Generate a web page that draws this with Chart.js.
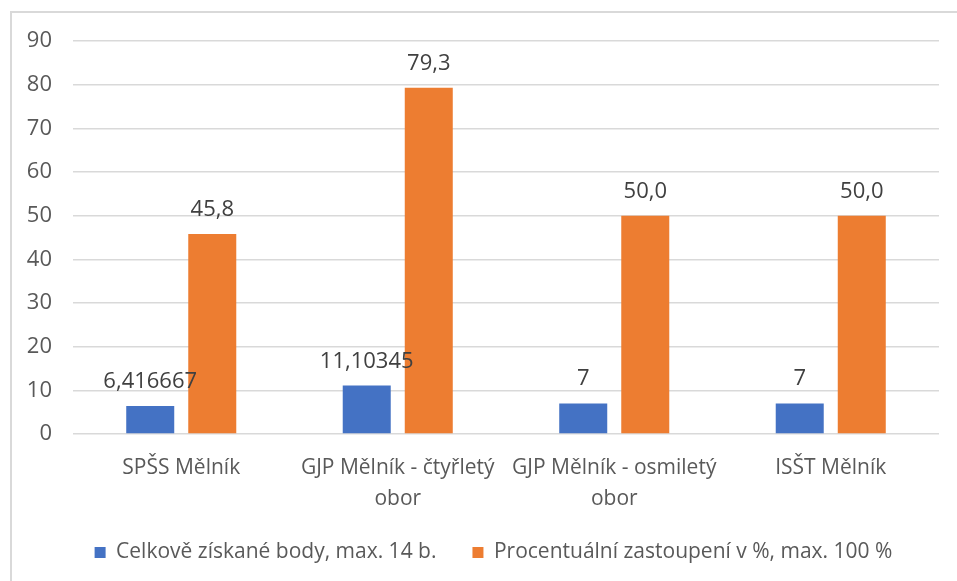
<!DOCTYPE html>
<html>
<head>
<meta charset="utf-8">
<script src="https://cdn.jsdelivr.net/npm/chart.js@4"></script>
<style>
  html, body { margin: 0; padding: 0; background: #fff; overflow: hidden; }
  #wrap { position: absolute; left: 10px; top: 11px; width: 963px; height: 600px; border: 2px solid #d9d9d9; }
</style>
</head>
<body>
<div id="wrap"><canvas id="graf" width="963" height="600"></canvas></div>
<script>
const skoly = [
  "SPŠS Mělník",
  ["GJP Mělník - čtyřletý", "obor"],
  ["GJP Mělník - osmiletý", "obor"],
  "ISŠT Mělník",
];
const bodyNazev = "Celkově získané body, max. 14 b.";
const procentaNazev = "Procentuální zastoupení v %, max. 100 %";
const body = [6.416667, 11.10345, 7, 7];
const procenta = [45.8, 79.3, 50.0, 50.0];
const osaY = { min: 0, max: 90, krok: 10 };

const pismo = "'Open Sans', sans-serif";
const seda = "#595959";

// popisky hodnot nad sloupci
const popiskyPlugin = {
  id: "popisky",
  afterDatasetsDraw(chart) {
    const ctx = chart.ctx;
    ctx.save();
    ctx.font = "22px " + pismo;
    ctx.fillStyle = "#404040";
    ctx.textAlign = "center";
    ctx.textBaseline = "alphabetic";
    chart.data.datasets.forEach((ds, i) => {
      chart.getDatasetMeta(i).data.forEach((bar, j) => {
        ctx.fillText(ds.format(ds.data[j]), bar.x, bar.y - 18);
      });
    });
    ctx.restore();
  },
};

// legenda je vystredena na celou sirku ramecku, ne jen bez praveho okraje
const posunLegendyPlugin = {
  id: "posunLegendy",
  afterLayout(chart) {
    chart.legend.left += 18;
    chart.legend.right += 18;
  },
};

new Chart(document.getElementById("graf"), {
  type: "bar",
  data: {
    labels: skoly,
    datasets: [
      {
        label: bodyNazev,
        data: body,
        backgroundColor: "#4472C4",
        format: (v) => String(v).replace(".", ","),
      },
      {
        label: procentaNazev,
        data: procenta,
        backgroundColor: "#ED7D31",
        format: (v) => v.toFixed(1).replace(".", ","),
      },
    ],
  },
  options: {
    responsive: false,
    animation: false,
    categoryPercentage: 0.573,
    barPercentage: 0.774,
    layout: { padding: { top: 28, right: 36, left: 0, bottom: 40 } },
    scales: {
      x: {
        grid: { display: false },
        border: { display: false },
        ticks: { color: seda, font: { family: pismo, size: 21, lineHeight: 1.45 }, padding: 11, maxRotation: 0, autoSkip: false },
        afterFit(scale) { scale.height = 72; },
      },
      y: {
        min: osaY.min,
        max: osaY.max,
        border: { display: false },
        grid: { color: "#d9d9d9", lineWidth: 1.5, drawTicks: false },
        ticks: { stepSize: osaY.krok, color: seda, font: { family: pismo, size: 22 }, padding: 21 },
        afterFit(scale) {
          scale.width = 61;
          scale.paddingTop = 0;
          scale.paddingBottom = 0;
        },
      },
    },
    plugins: {
      tooltip: { enabled: false },
      legend: {
        position: "bottom",
        labels: { color: seda, font: { family: pismo, size: 21 }, boxWidth: 11, boxHeight: 11, padding: 36 },
      },
    },
  },
  plugins: [popiskyPlugin, posunLegendyPlugin],
});
</script>
</body>
</html>
